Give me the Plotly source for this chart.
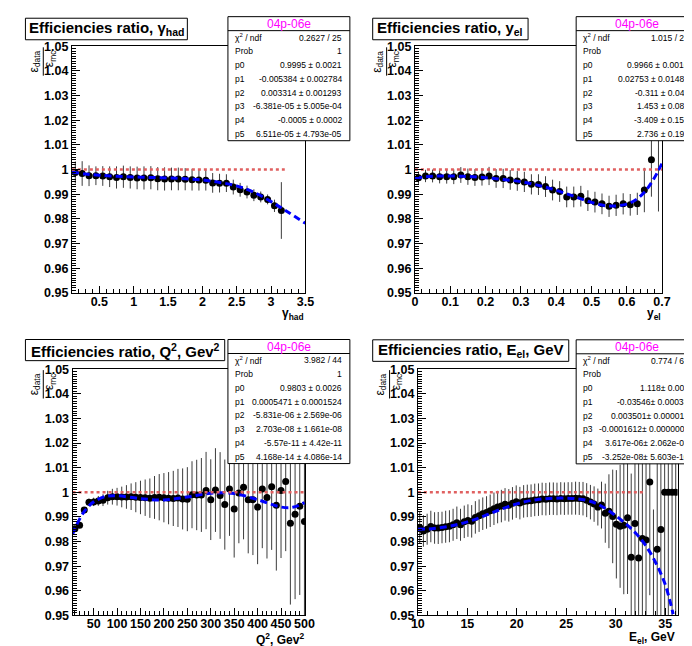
import plotly.graph_objects as go

W, H = 692, 646
FONT = "Liberation Sans, Arial, Helvetica, sans-serif"

# ---------------- data: gamma_had ----------------
gh_x = [0.15, 0.25, 0.35, 0.45, 0.55, 0.65, 0.75, 0.85, 0.95, 1.05, 1.15, 1.25, 1.35, 1.45, 1.55, 1.65,
        1.75, 1.85, 1.95, 2.05, 2.15, 2.25, 2.35, 2.45, 2.55, 2.65, 2.75, 2.85, 2.95, 3.05, 3.15]
gh_y = [0.9988, 0.9984, 0.9975, 0.9975, 0.9974, 0.9971, 0.9968, 0.9971, 0.9968, 0.9966, 0.9966, 0.9967,
        0.9963, 0.9962, 0.9962, 0.9962, 0.9961, 0.9959, 0.9958, 0.9957, 0.9946, 0.9945, 0.9945, 0.9929,
        0.9918, 0.9909, 0.9896, 0.9889, 0.9879, 0.9853, 0.9834]
gh_err = [0.0045, 0.0050, 0.0042, 0.0038, 0.0040, 0.0042, 0.0045, 0.0045, 0.0045, 0.0046, 0.0047, 0.0047,
          0.0047, 0.0047, 0.0046, 0.0046, 0.0045, 0.0044, 0.0043, 0.0042, 0.0040, 0.0038, 0.0036, 0.0030,
          0.0028, 0.0026, 0.0024, 0.0022, 0.0020, 0.0025, 0.0115]
gh_fit_x = [0.1, 0.3, 0.5, 0.75, 1.0, 1.25, 1.5, 1.75, 2.0, 2.25, 2.5, 2.75, 3.0, 3.25, 3.5]
gh_fit_y = [0.9990, 0.9982, 0.9977, 0.9973, 0.9970, 0.9968, 0.9966, 0.9963, 0.9958, 0.9948, 0.9934,
            0.9908, 0.9870, 0.9827, 0.9782]
gh_line_x = [0.1, 3.2]
gh_stats = ["0.2627 / 25", "1", "0.9995 ± 0.0021", "-0.005384 ± 0.002784", "0.003314 ± 0.001293",
            "-6.381e-05 ± 5.005e-04", "-0.0005 ± 0.0002", "6.511e-05 ± 4.793e-05"]

# ---------------- data: y_el ----------------
ye_x = [0.01, 0.03, 0.05, 0.07, 0.09, 0.11, 0.13, 0.15, 0.17, 0.19, 0.21, 0.23, 0.25, 0.27, 0.29, 0.31,
        0.33, 0.35, 0.37, 0.39, 0.41, 0.43, 0.45, 0.47, 0.49, 0.51, 0.53, 0.55, 0.57, 0.59, 0.61, 0.63,
        0.65, 0.67, 0.69]
ye_y = [0.9967, 0.9974, 0.9974, 0.9971, 0.9971, 0.9971, 0.9978, 0.9971, 0.9968, 0.9970, 0.9974, 0.9964,
        0.9964, 0.9958, 0.9954, 0.9950, 0.9940, 0.9939, 0.9931, 0.9917, 0.9911, 0.9889, 0.9889, 0.9892,
        0.9874, 0.9868, 0.9861, 0.9851, 0.9855, 0.9861, 0.9857, 0.9861, 0.9917, 1.0040, 1.0200]
ye_err = [0.0025, 0.0025, 0.0026, 0.0027, 0.0028, 0.0030, 0.0032, 0.0033, 0.0034, 0.0035, 0.0037, 0.0038,
          0.0039, 0.0040, 0.0040, 0.0041, 0.0041, 0.0042, 0.0042, 0.0042, 0.0042, 0.0042, 0.0042, 0.0042,
          0.0042, 0.0042, 0.0042, 0.0043, 0.0043, 0.0043, 0.0044, 0.0045, 0.0090, 0.0150, 0.0370]
ye_fit_x = [0.0, 0.05, 0.1, 0.15, 0.2, 0.25, 0.3, 0.35, 0.4, 0.45, 0.5, 0.55, 0.6, 0.625, 0.65, 0.675, 0.7]
ye_fit_y = [0.9966, 0.9973, 0.9974, 0.9972, 0.9967, 0.9960, 0.9951, 0.9936, 0.9916, 0.9892, 0.9867,
            0.9852, 0.9860, 0.9877, 0.9908, 0.9958, 1.0025]
ye_line_x = [0.0, 0.7]
ye_stats = ["1.015 / 29", "1", "0.9966 ± 0.0016", "0.02753 ± 0.01486", "-0.311 ± 0.044",
            "1.453 ± 0.086", "-3.409 ± 0.153", "2.736 ± 0.192"]

# ---------------- data: Q^2 ----------------
q2_x = [10, 20, 30, 40, 50, 60, 70, 80, 90, 100, 110, 120, 130, 140, 150, 160, 170, 180, 190, 200,
        210, 220, 230, 240, 250, 260, 270, 280, 290, 300, 310, 320, 330, 340, 350, 360, 370, 380, 390, 400,
        410, 420, 430, 440, 450, 460, 470, 480, 490, 500]
q2_y = [0.9852, 0.9866, 0.9928, 0.9959, 0.9961, 0.9965, 0.9968, 0.9978, 0.9982, 0.9982, 0.9981, 0.9981,
        0.9982, 0.9980, 0.9979, 0.9978, 0.9976, 0.9979, 0.9980, 0.9978, 0.9976, 0.9975, 0.9977, 0.9973,
        0.9972, 0.9990, 0.9989, 0.9989, 1.0007, 0.9970, 1.0009, 0.9987, 0.9950, 1.0013, 0.9932, 0.9997,
        1.0020, 0.9970, 0.9970, 0.9940, 1.0013, 0.9979, 1.0022, 0.9947, 1.0007, 1.0044, 0.9874, 0.9911,
        0.9943, 0.9881]
q2_err = [0.0010, 0.0010, 0.0012, 0.0015, 0.0017, 0.0020, 0.0024, 0.0028, 0.0032, 0.0036, 0.0042, 0.0048,
          0.0054, 0.0061, 0.0068, 0.0074, 0.0080, 0.0087, 0.0094, 0.0100, 0.0106, 0.0112, 0.0118, 0.0124,
          0.0130, 0.0136, 0.0143, 0.0150, 0.0157, 0.0164, 0.0170, 0.0176, 0.0183, 0.0190, 0.0197, 0.0204,
          0.0211, 0.0218, 0.0225, 0.0232, 0.0240, 0.0248, 0.0256, 0.0265, 0.0274, 0.0283, 0.0330, 0.0345,
          0.0360, 0.0450]
q2_fit_x = [5, 10, 20, 30, 40, 50, 75, 100, 150, 200, 250, 300, 350, 400, 450, 475, 500]
q2_fit_y = [0.9829, 0.9852, 0.9891, 0.9922, 0.9945, 0.9961, 0.9983, 0.9986, 0.9974, 0.9969, 0.9981,
            0.9996, 0.9995, 0.9970, 0.9940, 0.9939, 0.9958]
q2_line_x = [5, 500]
q2_stats = ["3.982 / 44", "1", "0.9803 ± 0.0026", "0.0005471 ± 0.0001524", "-5.831e-06 ± 2.569e-06",
            "2.703e-08 ± 1.661e-08", "-5.57e-11 ± 4.42e-11", "4.168e-14 ± 4.086e-14"]

# ---------------- data: E_el ----------------
ee_x = [10.19, 10.56, 10.94, 11.31, 11.69, 12.06, 12.44, 12.81, 13.19, 13.56, 13.94, 14.31, 14.69, 15.06,
        15.44, 15.81, 16.19, 16.56, 16.94, 17.31, 17.69, 18.06, 18.44, 18.81, 19.19, 19.56, 19.94, 20.31,
        20.69, 21.06, 21.44, 21.81, 22.19, 22.56, 22.94, 23.31, 23.69, 24.06, 24.44, 24.81, 25.19, 25.56,
        25.94, 26.31, 26.69, 27.06, 27.44, 27.81, 28.19, 28.56, 28.94, 29.31, 29.69, 30.06, 30.44, 30.81,
        31.19, 31.56, 31.94, 32.31, 32.69, 33.06, 33.44, 33.81, 34.19, 34.56, 34.94, 35.31, 35.69, 36.06]
ee_y = [0.9857, 0.9843, 0.9850, 0.9861, 0.9855, 0.9855, 0.9857, 0.9860, 0.9862, 0.9868, 0.9876, 0.9868,
        0.9880, 0.9885, 0.9882, 0.9898, 0.9905, 0.9913, 0.9918, 0.9925, 0.9933, 0.9940, 0.9944, 0.9951,
        0.9947, 0.9955, 0.9962, 0.9956, 0.9963, 0.9965, 0.9966, 0.9969, 0.9970, 0.9973, 0.9972, 0.9974,
        0.9974, 0.9973, 0.9975, 0.9974, 0.9975, 0.9975, 0.9976, 0.9975, 0.9974, 0.9968, 0.9960, 0.9952,
        0.9940, 0.9948, 0.9915, 0.9923, 0.9902, 0.9870, 0.9862, 0.9866, 0.9897, 0.9736, 0.9873, 0.9733,
        0.9812, 0.9806, 1.0042, 0.9450, 0.9769, 0.9849, 1.0000, 1.0000, 1.0000, 1.0000]
ee_err = [0.0063, 0.0064, 0.0063, 0.0064, 0.0064, 0.0065, 0.0064, 0.0065, 0.0065, 0.0065, 0.0066, 0.0065,
          0.0066, 0.0066, 0.0066, 0.0066, 0.0066, 0.0066, 0.0066, 0.0066, 0.0066, 0.0066, 0.0066, 0.0066,
          0.0066, 0.0066, 0.0066, 0.0066, 0.0066, 0.0066, 0.0066, 0.0066, 0.0066, 0.0066, 0.0066, 0.0066,
          0.0066, 0.0066, 0.0066, 0.0066, 0.0066, 0.0066, 0.0067, 0.0067, 0.0068, 0.0069, 0.0070, 0.0072,
          0.0075, 0.0095, 0.0120, 0.0150, 0.0190, 0.0220, 0.0250, 0.0280, 0.0310, 0.0340, 0.0380, 0.0400,
          0.0420, 0.0440, 0.0460, 0.0480, 0.0500, 0.0520, 0.0600, 0.0600, 0.0600, 0.0600]
ee_fit_x = [10, 11, 12, 13, 14, 15, 16, 17, 18, 19, 20, 21, 22, 23, 24, 25, 26, 27, 28, 29, 30, 31, 32,
            33, 34, 35, 35.8]
ee_fit_y = [0.9850, 0.9851, 0.9855, 0.9861, 0.9869, 0.9880, 0.9893, 0.9909, 0.9925, 0.9940, 0.9953,
            0.9963, 0.9970, 0.9974, 0.9976, 0.9976, 0.9974, 0.9968, 0.9955, 0.9933, 0.9905, 0.9872,
            0.9835, 0.9785, 0.9717, 0.9625, 0.9505]
ee_line_x = [10, 32.9]
ee_stats = ["0.774 / 64", "1", "1.118± 0.004", "-0.03546± 0.00033", "0.003501± 0.000014",
            "-0.0001612± 0.0000006", "3.617e-06± 2.062e-08", "-3.252e-08± 5.603e-10"]

stat_labels = ["χ<sup>2</sup> / ndf", "Prob", "p0", "p1", "p2", "p3", "p4", "p5"]

# ---------------- layout helpers ----------------
def fx(px):
    return px / W


def fy(py):
    return 1 - py / H


panels = [
    dict(x=gh_x, y=gh_y, err=gh_err, fitx=gh_fit_x, fity=gh_fit_y, linex=gh_line_x, stats=gh_stats,
         frame=(58.3, 32, 297.7, 284), xr=[0.1, 3.5], tick0=0.5, dtick=0.5, minor=0.1,
         title="Efficiencies ratio, γ<sub>had</sub>", tbox=(10.7, 3.3, 176.7, 25.3),
         sbox=(218.3, 1.7), vright=337.5, xtitle="γ<sub>had</sub>", xt=(298, 306), ytit=(20, 36, 48)),
    dict(x=ye_x, y=ye_y, err=ye_err, fitx=ye_fit_x, fity=ye_fit_y, linex=ye_line_x, stats=ye_stats,
         frame=(410, 32, 663.3, 284), xr=[0, 0.7], tick0=0, dtick=0.1, minor=0.02,
         title="Efficiencies ratio, y<sub>el</sub>", tbox=(366.7, 3.3, 526, 25.3),
         sbox=(575.3, 1.7), vright=693, xtitle="y<sub>el</sub>", xt=(664, 306), ytit=(372, 388, 48)),
    dict(x=q2_x, y=q2_y, err=q2_err, fitx=q2_fit_x, fity=q2_fit_y, linex=q2_line_x, stats=q2_stats,
         frame=(59, 362, 297.7, 613.7), xr=[5, 502], tick0=0, dtick=50, minor=10,
         title="Efficiencies ratio, Q<sup>2</sup>, Gev<sup>2</sup>", tbox=(10.7, 331.7, 215, 353.3),
         sbox=(218.3, 331.7), vright=337.5, xtitle="Q<sup>2</sup>, Gev<sup>2</sup>", xt=(298, 637.5),
         ytit=(20, 36, 378)),
    dict(x=ee_x, y=ee_y, err=ee_err, fitx=ee_fit_x, fity=ee_fit_y, linex=ee_line_x, stats=ee_stats,
         frame=(413, 362, 679.3, 613.7), xr=[10, 36.25], tick0=0, dtick=5, minor=1,
         title="Efficiencies ratio, E<sub>el</sub>, GeV", tbox=(366.7, 332, 567.7, 354),
         sbox=(575.3, 332), vright=693, xtitle="E<sub>el</sub>, GeV", xt=(679, 636.5), ytit=(375, 391, 378)),
]

fig = go.Figure()
shapes = []
annotations = []
layout = dict(width=W, height=H, margin=dict(l=0, r=0, t=0, b=0), showlegend=False,
              paper_bgcolor="white", plot_bgcolor="white")

tickfont = dict(family=FONT, size=12.5, color="black", weight="bold")
statfont = dict(family=FONT, size=8.5, color="black")

for i, p in enumerate(panels, start=1):
    xa = "x" if i == 1 else f"x{i}"
    ya = "y" if i == 1 else f"y{i}"
    l, t, r, b = p["frame"]
    layout[f"xaxis{i}" if i > 1 else "xaxis"] = dict(
        domain=[fx(l), fx(r)], range=p["xr"], anchor=ya, tickmode="linear", tick0=p["tick0"],
        dtick=p["dtick"], ticks="inside", ticklen=7, tickwidth=1, tickcolor="black",
        showline=True, linecolor="black", linewidth=1, mirror=True, showgrid=False, zeroline=False,
        tickfont=tickfont, ticklabelstandoff=-3,
        minor=dict(dtick=p["minor"], tick0=0, ticks="inside", ticklen=4, tickcolor="black", showgrid=False))
    layout[f"yaxis{i}" if i > 1 else "yaxis"] = dict(
        domain=[fy(b), fy(t)], range=[0.95, 1.05], anchor=xa, tickmode="linear", tick0=0.95, dtick=0.01,
        ticks="inside", ticklen=8, tickwidth=1, tickcolor="black",
        showline=True, linecolor="black", linewidth=1, mirror=True, showgrid=False, zeroline=False,
        tickfont=tickfont,
        minor=dict(dtick=0.001, tick0=0.95, ticks="inside", ticklen=4, tickcolor="black", showgrid=False))

    # data points with error bars
    fig.add_trace(go.Scatter(
        x=p["x"], y=p["y"], mode="markers", xaxis=xa, yaxis=ya,
        marker=dict(color="black", size=7),
        error_y=dict(type="data", array=p["err"], color="#3c3c3c", thickness=1, width=0)))
    # fit curve
    fig.add_trace(go.Scatter(
        x=p["fitx"], y=p["fity"], mode="lines", xaxis=xa, yaxis=ya,
        line=dict(color="#0000ff", width=3, dash="7px,4px", shape="spline")))
    # reference line at 1
    fig.add_trace(go.Scatter(
        x=p["linex"], y=[1, 1], mode="lines", xaxis=xa, yaxis=ya,
        line=dict(color="#e06060", width=2.5, dash="3px,3px")))

    # title box
    x0, y0, x1, y1 = p["tbox"]
    shapes.append(dict(type="rect", xref="paper", yref="paper", x0=fx(x0), x1=fx(x1), y0=fy(y1), y1=fy(y0),
                       line=dict(color="black", width=1), fillcolor="white", layer="above"))
    annotations.append(dict(xref="paper", yref="paper", x=fx((x0 + x1) / 2), y=fy((y0 + y1) / 2),
                            text=p["title"], showarrow=False, xanchor="center", yanchor="middle",
                            font=dict(family=FONT, size=15, color="black", weight="bold")))

    # stats box
    sl, st = p["sbox"]
    sw, sh = 125, 126.8
    shapes.append(dict(type="rect", xref="paper", yref="paper", x0=fx(sl), x1=fx(sl + sw),
                       y0=fy(st + sh), y1=fy(st), line=dict(color="black", width=1),
                       fillcolor="white", layer="above"))
    shapes.append(dict(type="line", xref="paper", yref="paper", x0=fx(sl), x1=fx(sl + sw),
                       y0=fy(st + 14.3), y1=fy(st + 14.3), line=dict(color="black", width=1), layer="above"))
    annotations.append(dict(xref="paper", yref="paper", x=fx(sl + sw / 2), y=fy(st + 7.3),
                            text="04p-06e", showarrow=False, xanchor="center", yanchor="middle",
                            font=dict(family=FONT, size=12, color="#ff00ff")))
    for k in range(8):
        yc = st + 14.3 + 14.06 * (k + 0.5)
        annotations.append(dict(xref="paper", yref="paper", x=fx(sl + 5), y=fy(yc), text=stat_labels[k],
                                showarrow=False, xanchor="left", yanchor="middle", font=statfont))
        annotations.append(dict(xref="paper", yref="paper", x=fx(p["vright"]), y=fy(yc), text=p["stats"][k],
                                showarrow=False, xanchor="right", yanchor="middle", font=statfont))

    # x axis title
    xtx, xty = p["xt"]
    annotations.append(dict(xref="paper", yref="paper", x=fx(xtx), y=fy(xty), text=p["xtitle"],
                            showarrow=False, xanchor="right", yanchor="middle",
                            font=dict(family=FONT, size=12, color="black", weight="bold")))

    # y axis title (fraction eps_data / eps_mc)
    nx, dx, yc = p["ytit"]
    annotations.append(dict(xref="paper", yref="paper", x=fx(nx), y=fy(yc), text="ε<sub>data</sub>",
                            showarrow=False, xanchor="center", yanchor="middle", textangle=-90,
                            font=dict(family=FONT, size=12, color="black")))
    annotations.append(dict(xref="paper", yref="paper", x=fx(dx), y=fy(yc - 3), text="ε<sub>mc</sub>",
                            showarrow=False, xanchor="center", yanchor="middle", textangle=-90,
                            font=dict(family=FONT, size=12, color="black")))
    mid = (nx + dx) / 2 + 1
    shapes.append(dict(type="line", xref="paper", yref="paper", x0=fx(mid), x1=fx(mid),
                       y0=fy(yc + 14), y1=fy(yc - 15), line=dict(color="black", width=1)))

layout["shapes"] = shapes
layout["annotations"] = annotations
fig.update_layout(**layout)
fig.write_html("out.html")
